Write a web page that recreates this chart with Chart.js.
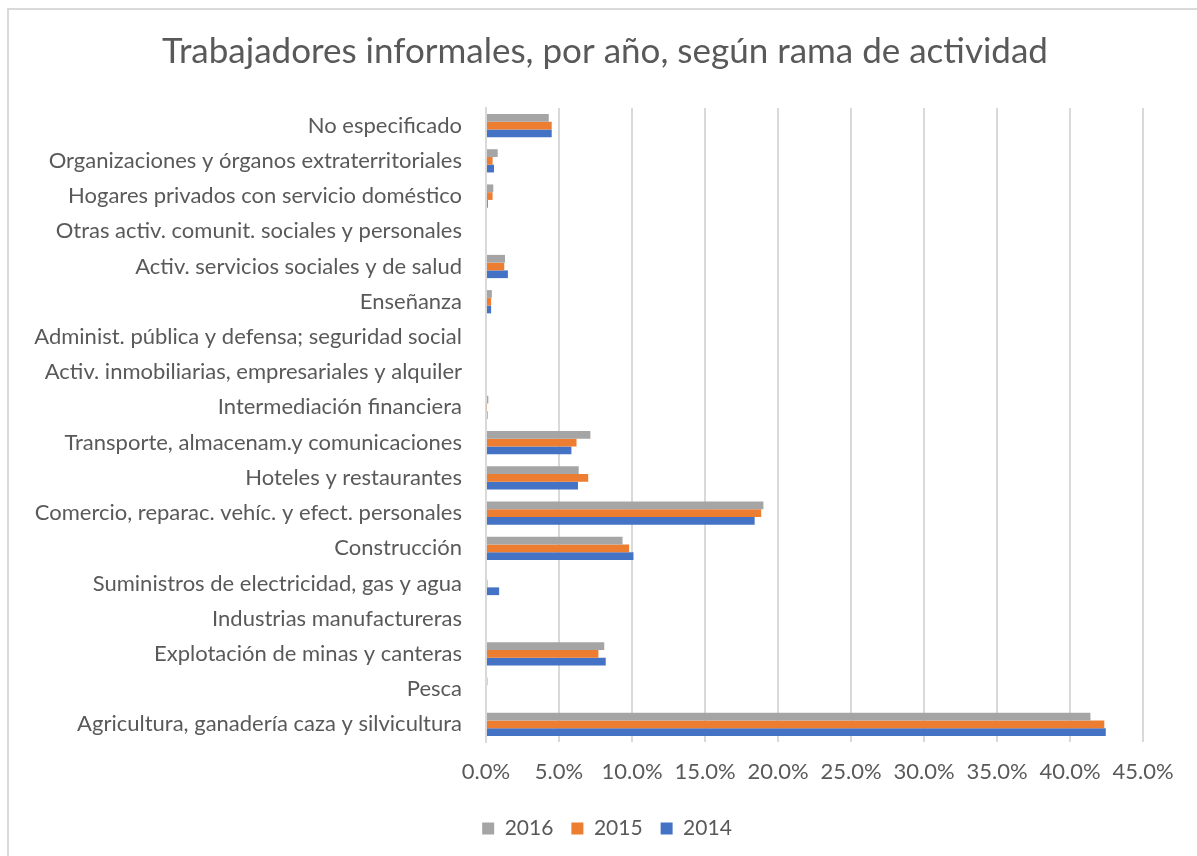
<!DOCTYPE html>
<html>
<head>
<meta charset="utf-8">
<script src="https://cdn.jsdelivr.net/npm/chart.js@4"></script>
<style>
html,body{margin:0;padding:0;background:#fff;}
#wrap{position:absolute;left:0;top:0;width:1197px;height:856px;}
#frame{position:absolute;left:7px;top:8px;width:1200px;height:860px;border-left:2px solid #d9d9d9;border-top:2px solid #d9d9d9;}
canvas{position:absolute;left:0;top:0;}
</style>
</head>
<body>
<div id="wrap"><div id="frame"></div><canvas id="c" width="1197" height="856"></canvas></div>
<script>
const categories = [
  "No especificado",
  "Organizaciones y órganos extraterritoriales",
  "Hogares privados con servicio doméstico",
  "Otras activ. comunit. sociales y personales",
  "Activ. servicios sociales y de salud",
  "Enseñanza",
  "Administ. pública y defensa; seguridad social",
  "Activ. inmobiliarias, empresariales y alquiler",
  "Intermediación financiera",
  "Transporte, almacenam.y comunicaciones",
  "Hoteles y restaurantes",
  "Comercio, reparac. vehíc. y efect. personales",
  "Construcción",
  "Suministros de electricidad, gas y agua",
  "Industrias manufactureras",
  "Explotación de minas y canteras",
  "Pesca",
  "Agricultura, ganadería caza y silvicultura"
];
const series2016 = [4.3, 0.8, 0.5, 0, 1.3, 0.4, 0, 0, 0.16, 7.15, 6.35, 19.0, 9.35, 0, 0, 8.1, 0.1, 41.4];
const series2015 = [4.5, 0.45, 0.45, 0, 1.25, 0.35, 0, 0, 0.05, 6.2, 7.0, 18.85, 9.8, 0.1, 0, 7.7, 0, 42.35];
const series2014 = [4.5, 0.55, 0.12, 0, 1.5, 0.35, 0, 0, 0.1, 5.85, 6.3, 18.4, 10.1, 0.9, 0, 8.2, 0, 42.45];
const xTicks = [0, 5, 10, 15, 20, 25, 30, 35, 40, 45];

const FONT = "Lato";
const TXT = "#595959";

// Title and legend are centred on the full chart frame (which runs past the right edge)
const frameCentre = {
  id: 'frameCentre',
  afterLayout(chart) {
    if (chart.titleBlock) { chart.titleBlock.left = 8; chart.titleBlock.right = 1202; }
    if (chart.legend) { chart.legend.left = 8; chart.legend.right = 1206; }
  }
};

new Chart(document.getElementById('c'), {
  type: 'bar',
  plugins: [frameCentre],
  data: {
    labels: categories,
    datasets: [
      {label: '2016', data: series2016, backgroundColor: '#A5A5A5'},
      {label: '2015', data: series2015, backgroundColor: '#ED7D31'},
      {label: '2014', data: series2014, backgroundColor: '#4472C4'}
    ]
  },
  options: {
    indexAxis: 'y',
    responsive: false,
    animation: false,
    datasets: {bar: {categoryPercentage: 0.66, barPercentage: 1.0}},
    layout: {padding: {left: 8, right: 54, top: 10, bottom: 7}},
    plugins: {
      title: {
        display: true,
        text: 'Trabajadores informales, por año, según rama de actividad',
        color: TXT,
        font: {family: FONT, size: 35, weight: 'normal'},
        padding: {top: 21, bottom: 35}
      },
      legend: {
        position: 'bottom',
        labels: {
          color: TXT,
          font: {family: FONT, size: 21},
          boxWidth: 12, boxHeight: 12,
          padding: 18
        }
      },
      tooltip: {enabled: false}
    },
    scales: {
      x: {
        min: 0, max: 45,
        afterBuildTicks: (s) => { s.ticks = xTicks.map(v => ({value: v})); },
        afterFit: (s) => { s.height = 58; },
        grid: {color: '#d9d9d9', lineWidth: 2, drawTicks: false},
        border: {display: false},
        ticks: {
          color: TXT,
          font: {family: FONT, size: 22},
          padding: 17,
          callback: (v) => Number(v).toFixed(1) + '%'
        }
      },
      y: {
        afterFit: (s) => { s.width = 478; },
        grid: {display: false, drawTicks: false},
        border: {display: true, color: '#d9d9d9', width: 2},
        ticks: {
          color: TXT,
          font: {family: FONT, size: 22},
          padding: 24,
          autoSkip: false
        }
      }
    }
  }
});
</script>
</body>
</html>
